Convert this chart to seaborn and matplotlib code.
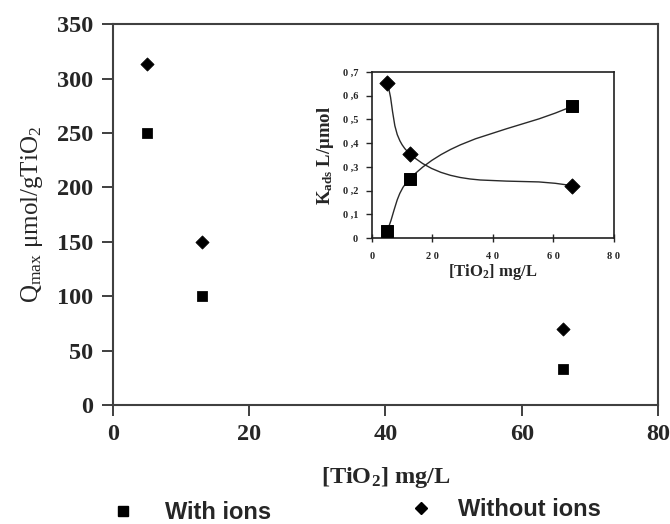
import numpy as np
import pandas as pd
import matplotlib
matplotlib.use("Agg")
import matplotlib.pyplot as plt
from matplotlib.path import Path
from matplotlib.patches import PathPatch
from matplotlib.lines import Line2D
import seaborn as sns

# ---- data ----
tio2_main = [5, 13, 66]
qmax_with_ions = [250, 100, 33]
qmax_without_ions = [313, 150, 70]

tio2_inset = [5, 12.5, 66]
kads_with_ions = [0.03, 0.25, 0.555]
kads_without_ions = [0.655, 0.355, 0.22]

series_names = ["With ions", "Without ions"]
main_xticks = [0, 20, 40, 60, 80]
main_yticks = [0, 50, 100, 150, 200, 250, 300, 350]
inset_xticklabels = ["0", "2 0", "4 0", "6 0", "8 0"]
inset_yticks = [0, 0.1, 0.2, 0.3, 0.4, 0.5, 0.6, 0.7]
inset_yticklabels = ["0", "0 ,1", "0 ,2", "0 ,3", "0 ,4", "0 ,5", "0 ,6", "0 ,7"]

sns.set_style("ticks")
plt.rcParams["font.family"] = ["Liberation Serif", "DejaVu Serif"]
plt.rcParams["mathtext.fontset"] = "custom"
plt.rcParams["mathtext.rm"] = "Liberation Serif"
plt.rcParams["mathtext.it"] = "Liberation Serif:italic"
plt.rcParams["mathtext.bf"] = "Liberation Serif:bold"

main_df = pd.DataFrame({
    "x": tio2_main * 2,
    "y": qmax_with_ions + qmax_without_ions,
    "series": [series_names[0]] * 3 + [series_names[1]] * 3,
})
inset_df = pd.DataFrame({
    "x": tio2_inset * 2,
    "y": kads_with_ions + kads_without_ions,
    "series": [series_names[0]] * 3 + [series_names[1]] * 3,
})

fig = plt.figure(figsize=(6.7, 5.24), dpi=100)
ax = fig.add_axes([0.1687, 0.227, 0.8133, 0.727])

sns.scatterplot(data=main_df[main_df.series == series_names[0]], x="x", y="y",
                marker="s", s=48, color="black", edgecolor="black", ax=ax, legend=False)
sns.scatterplot(data=main_df[main_df.series == series_names[1]], x="x", y="y",
                marker="D", s=45, color="black", edgecolor="black", ax=ax, legend=False)

ax.set_xlim(0, 80)
ax.set_ylim(0, 350)
ax.set_xticks(main_xticks)
ax.set_yticks(main_yticks)
for sp in ax.spines.values():
    sp.set_color("#404040")
    sp.set_linewidth(1.5)
ax.tick_params(direction="out", length=8, width=1.3, color="#303030",
               labelsize=17.5, pad=6)
for lab in ax.get_xticklabels() + ax.get_yticklabels():
    lab.set_fontweight("bold")
ax.set_xlabel(r"[TiO$_\mathbf{2}$] mg/L", fontsize=17.5, fontweight="bold", labelpad=14)
ax.set_ylabel(r"Q$_{\rm max}$ μmol/gTiO$_2$", fontsize=18, labelpad=9)

# ---- inset ----
axi = fig.add_axes([0.5552, 0.5458, 0.3612, 0.3168])
axi.set_xlim(0, 80)
axi.set_ylim(0, 0.7)


def smooth_path(xs, ys, axes, k=0.36):
    # smooth curve through the points, built in the axes' pixel-scaled space
    bb = axes.get_position()
    x0, x1 = axes.get_xlim()
    y0, y1 = axes.get_ylim()
    sx = bb.width * fig.get_figwidth() / (x1 - x0)
    sy = bb.height * fig.get_figheight() / (y1 - y0)
    pts = np.column_stack([np.asarray(xs, float) * sx, np.asarray(ys, float) * sy])
    n = len(pts)

    def unit(v):
        return v / np.hypot(*v)

    tang = []
    for i in range(n):
        if i == 0:
            t = unit(pts[1] - pts[0])
        elif i == n - 1:
            t = unit(pts[-1] - pts[-2])
        else:
            t = unit(unit(pts[i] - pts[i - 1]) + unit(pts[i + 1] - pts[i]))
        tang.append(t)
    verts = [pts[0]]
    codes = [Path.MOVETO]
    for i in range(n - 1):
        L = np.hypot(*(pts[i + 1] - pts[i]))
        verts += [pts[i] + tang[i] * L * k, pts[i + 1] - tang[i + 1] * L * k, pts[i + 1]]
        codes += [Path.CURVE4] * 3
    verts = np.array(verts) / np.array([sx, sy])
    return Path(verts, codes)


for ys in (kads_with_ions, kads_without_ions):
    axi.add_patch(PathPatch(smooth_path(tio2_inset, ys, axi), facecolor="none",
                            edgecolor="#2a2a2a", lw=1.0))

sns.scatterplot(data=inset_df[inset_df.series == series_names[0]], x="x", y="y",
                marker="s", s=75, color="black", edgecolor="black", ax=axi, legend=False, zorder=3)
sns.scatterplot(data=inset_df[inset_df.series == series_names[1]], x="x", y="y",
                marker="D", s=60, color="black", edgecolor="black", ax=axi, legend=False, zorder=3)
axi.set_xlim(0, 80)
axi.set_ylim(0, 0.7)
axi.set_xticks(main_xticks)
axi.set_xticklabels(inset_xticklabels)
axi.set_yticks(inset_yticks)
axi.set_yticklabels(inset_yticklabels)
for sp in axi.spines.values():
    sp.set_color("#202020")
    sp.set_linewidth(1.2)
axi.tick_params(axis="y", direction="out", length=4, width=1.0, labelsize=7.5, pad=6)
axi.tick_params(axis="x", direction="inout", length=6, width=1.0, labelsize=7.5, pad=7)
for lab in axi.get_xticklabels() + axi.get_yticklabels():
    lab.set_fontweight("bold")
axi.set_xlabel(r"[TiO$_\mathbf{2}$] mg/L", fontsize=12, fontweight="bold", labelpad=1)
axi.set_ylabel(r"K$_{\mathbf{ads}}$ L/μmol", fontsize=13.5, fontweight="bold", labelpad=5)

# ---- legends ----
h1 = [Line2D([], [], marker="s", color="black", linestyle="none", markersize=7)]
h2 = [Line2D([], [], marker="D", color="black", linestyle="none", markersize=6)]
leg_font = {"family": ["Liberation Sans", "DejaVu Sans"], "weight": "bold", "size": 17}
fig.legend(h1, [series_names[0]], loc="center left", bbox_to_anchor=(0.166, 0.022),
           frameon=False, prop=leg_font, handlelength=1.0, handletextpad=1.28,
           borderaxespad=0, borderpad=0)
fig.legend(h2, [series_names[1]], loc="center left", bbox_to_anchor=(0.611, 0.028),
           frameon=False, prop=leg_font, handlelength=1.0, handletextpad=1.07,
           borderaxespad=0, borderpad=0)

fig.savefig("out.png", dpi=100)
